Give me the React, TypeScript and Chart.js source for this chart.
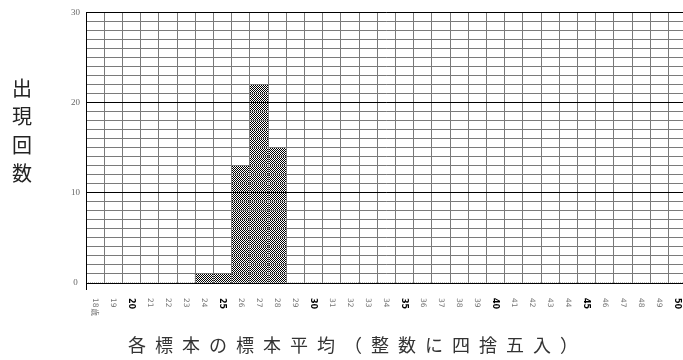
import React, { useEffect, useRef } from "react";
import { Chart, registerables } from "chart.js";

Chart.register(...registerables);

const categories: string[] = [
  "18", "19", "20", "21", "22", "23", "24", "25", "26", "27", "28", "29", "30",
  "31", "32", "33", "34", "35", "36", "37", "38", "39", "40", "41", "42", "43",
  "44", "45", "46", "47", "48", "49", "50",
];
const counts: number[] = [
  0, 0, 0, 0, 0, 0, 1, 1, 13, 22, 15, 0, 0,
  0, 0, 0, 0, 0, 0, 0, 0, 0, 0, 0, 0, 0,
  0, 0, 0, 0, 0, 0, 0,
];
const boldLabels: string[] = ["20", "25", "30", "35", "40", "45", "50"];
const firstLabelSuffix = "歳";
const yTitle = "出現回数";
const xTitle = "各標本の標本平均（整数に四捨五入）";

export default function App() {
  const ref = useRef<HTMLCanvasElement | null>(null);

  useEffect(() => {
    const canvas = ref.current;
    if (!canvas) return;

    const pc = document.createElement("canvas");
    pc.width = 2;
    pc.height = 2;
    const pctx = pc.getContext("2d")!;
    pctx.fillStyle = "#ffffff";
    pctx.fillRect(0, 0, 2, 2);
    pctx.fillStyle = "#000000";
    pctx.fillRect(0, 0, 1, 1);
    pctx.fillRect(1, 1, 1, 1);
    const ctx0 = canvas.getContext("2d")!;
    const pattern = ctx0.createPattern(pc, "repeat");

    const labelPlugin = {
      id: "customLabels",
      afterDraw(chart: any) {
        const ctx = chart.ctx as CanvasRenderingContext2D;
        const xs = chart.scales.x;
        const area = chart.chartArea;
        ctx.save();
        // left axis extends a little below the bottom axis
        ctx.strokeStyle = "#000000";
        ctx.lineWidth = 1;
        ctx.beginPath();
        const lx = Math.round(area.left) + 0.5;
        ctx.moveTo(lx, area.bottom);
        ctx.lineTo(lx, area.bottom + 7);
        ctx.stroke();

        categories.forEach((c, i) => {
          const x = xs.getPixelForValue(i);
          const bold = boldLabels.includes(c);
          ctx.save();
          ctx.translate(x, 298);
          ctx.rotate(Math.PI / 2);
          ctx.textAlign = "left";
          ctx.textBaseline = "middle";
          ctx.fillStyle = bold ? "#000000" : "#777777";
          ctx.font = bold ? "bold 8px 'DejaVu Sans'" : "7.5px 'DejaVu Sans'";
          ctx.fillText(c, 0, 0);
          if (i === 0) {
            const w = ctx.measureText(c).width;
            ctx.font = "7.5px 'Noto Sans CJK JP'";
            ctx.fillText(firstLabelSuffix, w + 1, 0);
          }
          ctx.restore();
        });

        // y title: stacked characters
        ctx.fillStyle = "#222222";
        ctx.font = "20px 'Noto Sans CJK JP'";
        ctx.textAlign = "center";
        ctx.textBaseline = "middle";
        Array.from(yTitle).forEach((ch, i) => {
          ctx.fillText(ch, 22, 88 + i * 28.5);
        });

        // x title with wide spacing
        ctx.font = "18px 'Noto Sans CJK JP'";
        ctx.fillStyle = "#333333";
        const chars = Array.from(xTitle);
        const adv = 27;
        const cx = 353;
        const startX = cx - (adv * (chars.length - 1)) / 2;
        chars.forEach((ch, i) => {
          ctx.fillText(ch, startX + i * adv, 345);
        });
        ctx.restore();
      },
    };

    const chart = new Chart(canvas, {
      type: "bar",
      data: {
        labels: categories,
        datasets: [
          {
            data: counts,
            backgroundColor: pattern as any,
            borderWidth: 0,
            barPercentage: 1,
            categoryPercentage: 1,
          },
        ],
      },
      options: {
        responsive: false,
        animation: false,
        events: [],
        layout: { padding: { left: 0, right: 13.4, top: 12.5, bottom: 0 } },
        plugins: {
          legend: { display: false },
          tooltip: { enabled: false },
          title: { display: false },
        },
        scales: {
          x: {
            type: "category",
            offset: true,
            grid: {
              offset: true,
              color: "#7a7a7a",
              lineWidth: 1,
              drawTicks: false,
              z: 1,
            },
            border: { color: "#000000", width: 1, z: 2 } as any,
            ticks: { display: false },
            afterFit(scale: any) {
              scale.height = 77;
            },
          },
          y: {
            min: 0,
            max: 30,
            grid: {
              color: (c: any) =>
                c.tick && c.tick.value % 10 === 0 ? "#000000" : "#7a7a7a",
              lineWidth: 1,
              drawTicks: false,
              z: 1,
            },
            border: { color: "#000000", width: 1, z: 2 } as any,
            ticks: {
              stepSize: 1,
              autoSkip: false,
              padding: 6,
              crossAlign: "center",
              color: "#666666",
              font: { family: "'Liberation Serif'", size: 9 },
              callback: (v: any) => (Number(v) % 10 === 0 ? String(v) : ""),
            },
            afterFit(scale: any) {
              scale.width = 86;
            },
          },
        },
      },
      plugins: [labelPlugin],
    });

    return () => chart.destroy();
  }, []);

  return (
    <div
      style={{
        position: "fixed",
        left: 0,
        top: 0,
        width: 683,
        height: 360,
        overflow: "hidden",
        background: "#ffffff",
      }}
    >
      <canvas ref={ref} width={700} height={360} style={{ display: "block" }} />
    </div>
  );
}
